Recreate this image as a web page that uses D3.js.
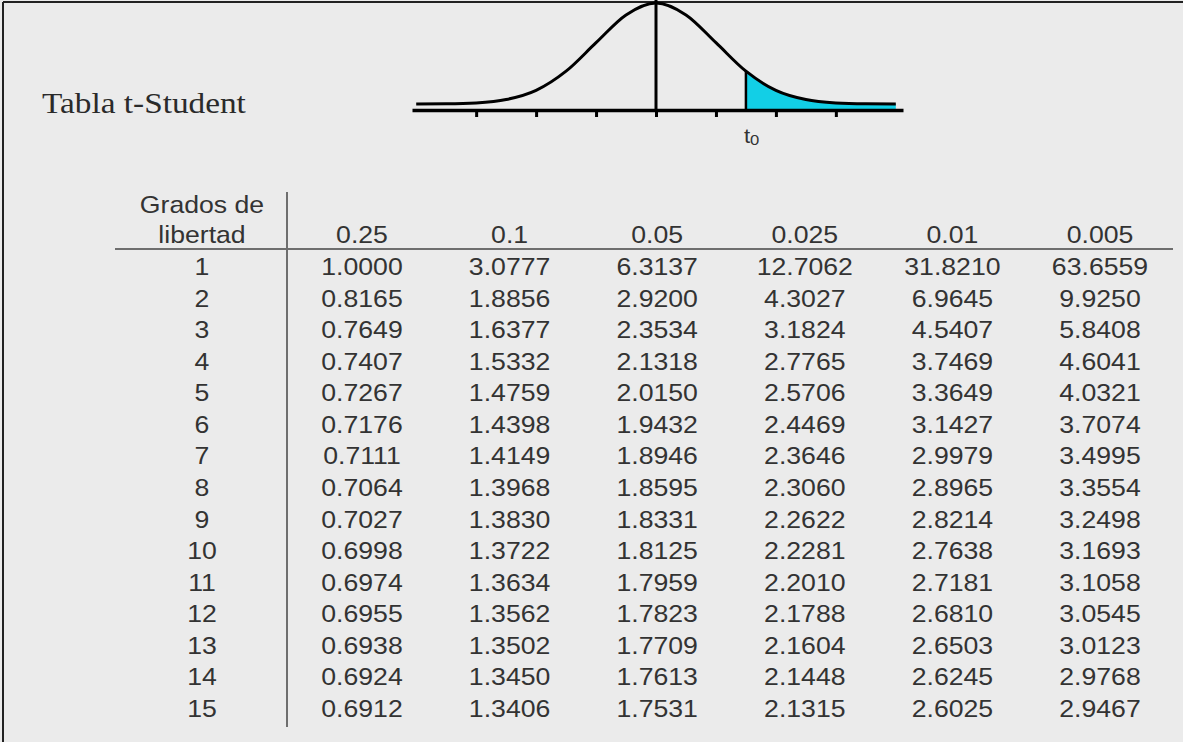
<!DOCTYPE html>
<html>
<head>
<meta charset="utf-8">
<script src="https://cdn.jsdelivr.net/npm/d3@7/dist/d3.min.js"></script>
<style>
  html, body { margin: 0; padding: 0; background: #ebebeb; }
  svg { display: block; }
</style>
</head>
<body>
<script>
// ---- data ----
const degrees = [1, 2, 3, 4, 5, 6, 7, 8, 9, 10, 11, 12, 13, 14, 15];
const alphas = ["0.25", "0.1", "0.05", "0.025", "0.01", "0.005"];
const t_025 = [1.0000, 0.8165, 0.7649, 0.7407, 0.7267, 0.7176, 0.7111, 0.7064, 0.7027, 0.6998, 0.6974, 0.6955, 0.6938, 0.6924, 0.6912];
const t_010 = [3.0777, 1.8856, 1.6377, 1.5332, 1.4759, 1.4398, 1.4149, 1.3968, 1.3830, 1.3722, 1.3634, 1.3562, 1.3502, 1.3450, 1.3406];
const t_005 = [6.3137, 2.9200, 2.3534, 2.1318, 2.0150, 1.9432, 1.8946, 1.8595, 1.8331, 1.8125, 1.7959, 1.7823, 1.7709, 1.7613, 1.7531];
const t_0025 = [12.7062, 4.3027, 3.1824, 2.7765, 2.5706, 2.4469, 2.3646, 2.3060, 2.2622, 2.2281, 2.2010, 2.1788, 2.1604, 2.1448, 2.1315];
const t_001 = [31.8210, 6.9645, 4.5407, 3.7469, 3.3649, 3.1427, 2.9979, 2.8965, 2.8214, 2.7638, 2.7181, 2.6810, 2.6503, 2.6245, 2.6025];
const t_0005 = [63.6559, 9.9250, 5.8408, 4.6041, 4.0321, 3.7074, 3.4995, 3.3554, 3.2498, 3.1693, 3.1058, 3.0545, 3.0123, 2.9768, 2.9467];
const columns = [t_025, t_010, t_005, t_0025, t_001, t_0005];

// illustrative density curve (relative height vs tick units)
const curveX = [-4, -3.5, -3, -2.5, -2, -1.5, -1, -0.5, 0, 0.5, 1, 1.5, 2, 2.5, 3, 3.5, 4];
const curveY = [0.0003, 0.002, 0.011, 0.044, 0.135, 0.325, 0.607, 0.882, 1, 0.882, 0.607, 0.325, 0.135, 0.044, 0.011, 0.002, 0.0003];
const tickValues = [-3, -2, -1, 0, 1, 2, 3];
const t0 = 1.5;
const title = "Tabla t-Student";
const headerLines = ["Grados de", "libertad"];

// ---- drawing ----
const W = 1183, H = 742;
const SX = 1.11; // horizontal stretch of the text in the picture
const svg = d3.select("body").append("svg").attr("width", W).attr("height", H);
svg.append("rect").attr("width", W).attr("height", H).attr("fill", "#ebebeb");

// frame lines (top and left)
svg.append("line").attr("x1", 3).attr("x2", W).attr("y1", 2).attr("y2", 2)
  .attr("stroke", "#222").attr("stroke-width", 2);
svg.append("line").attr("x1", 3).attr("x2", 3).attr("y1", 2).attr("y2", H)
  .attr("stroke", "#222").attr("stroke-width", 2);

// title
svg.append("text").attr("transform", `translate(42,113) scale(${SX},1)`)
  .attr("font-family", "'Liberation Serif', 'Times New Roman', serif")
  .attr("font-size", 30).attr("fill", "#2a2a2a").text(title);

// density illustration
const cx = d3.scaleLinear().domain([-4.07, 4.12]).range([412, 903]);
const cy = d3.scaleLinear().domain([0, 1]).range([104, 3]);
const axisY = 110;
const pts = curveX.map((x, i) => ({ x, y: curveY[i] }));

const g = svg.append("g");
const shadePts = pts.filter(d => d.x >= t0);
g.append("path").datum(shadePts)
  .attr("fill", "#12cfe6")
  .attr("d", d3.area().x(d => cx(d.x)).y0(axisY).y1(d => cy(d.y)).curve(d3.curveMonotoneX));

g.append("path").datum(pts)
  .attr("fill", "none").attr("stroke", "#000").attr("stroke-width", 3)
  .attr("d", d3.line().x(d => cx(d.x)).y(d => cy(d.y)).curve(d3.curveMonotoneX));

const t0y = curveY[curveX.indexOf(t0)];
g.append("line").attr("x1", cx(t0)).attr("x2", cx(t0)).attr("y1", cy(t0y)).attr("y2", axisY)
  .attr("stroke", "#000").attr("stroke-width", 2.5);

const axis = d3.axisBottom(cx).tickValues(tickValues).tickSize(7).tickSizeOuter(0).tickFormat("");
const ag = g.append("g").attr("transform", `translate(0,${axisY})`).call(axis);
ag.select(".domain").attr("stroke", "#000").attr("stroke-width", 3.5);
ag.selectAll(".tick line").attr("stroke", "#000").attr("stroke-width", 3);

g.append("line").attr("x1", cx(0)).attr("x2", cx(0)).attr("y1", 0).attr("y2", axisY)
  .attr("stroke", "#000").attr("stroke-width", 3);

const t0Label = g.append("text").attr("transform", `translate(${cx(t0) - 2},143) scale(${SX},1)`)
  .attr("font-family", "'Liberation Sans', Arial, sans-serif").attr("font-size", 20).attr("fill", "#333");
t0Label.append("tspan").text("t");
t0Label.append("tspan").attr("font-size", 15).attr("dy", 2).text("0");

// table
const fontTable = "'Liberation Sans', Arial, sans-serif";
const fs = 24;
const xCol = d3.scalePoint().domain(alphas).range([362, 1100]);
const yRow = d3.scalePoint().domain(degrees).range([275, 717]);
const xDeg = 202;
const tableColor = "#333";
const place = (x, y) => `translate(${x},${y}) scale(${SX},1)`;

const tg = svg.append("g").attr("font-family", fontTable).attr("font-size", fs)
  .attr("fill", tableColor).attr("text-anchor", "middle");

// header
tg.selectAll("text.hdr").data(headerLines).join("text").attr("class", "hdr")
  .attr("transform", (d, i) => place(xDeg, 213 + i * 30)).text(d => d);
tg.selectAll("text.alpha").data(alphas).join("text").attr("class", "alpha")
  .attr("transform", d => place(xCol(d), 243)).text(d => d);

// lines
svg.append("line").attr("x1", 115).attr("x2", 1173).attr("y1", 249).attr("y2", 249)
  .attr("stroke", "#6e6e6e").attr("stroke-width", 2);
svg.append("line").attr("x1", 287).attr("x2", 287).attr("y1", 192).attr("y2", 727)
  .attr("stroke", "#6e6e6e").attr("stroke-width", 2);

// degrees column
tg.selectAll("text.deg").data(degrees).join("text").attr("class", "deg")
  .attr("transform", d => place(xDeg, yRow(d))).text(d => d);

// values
const fmt = d3.format(".4f");
alphas.forEach((a, j) => {
  tg.selectAll(`text.c${j}`).data(columns[j]).join("text").attr("class", `c${j}`)
    .attr("transform", (d, i) => place(xCol(a), yRow(degrees[i]))).text(d => fmt(d));
});
</script>
</body>
</html>
